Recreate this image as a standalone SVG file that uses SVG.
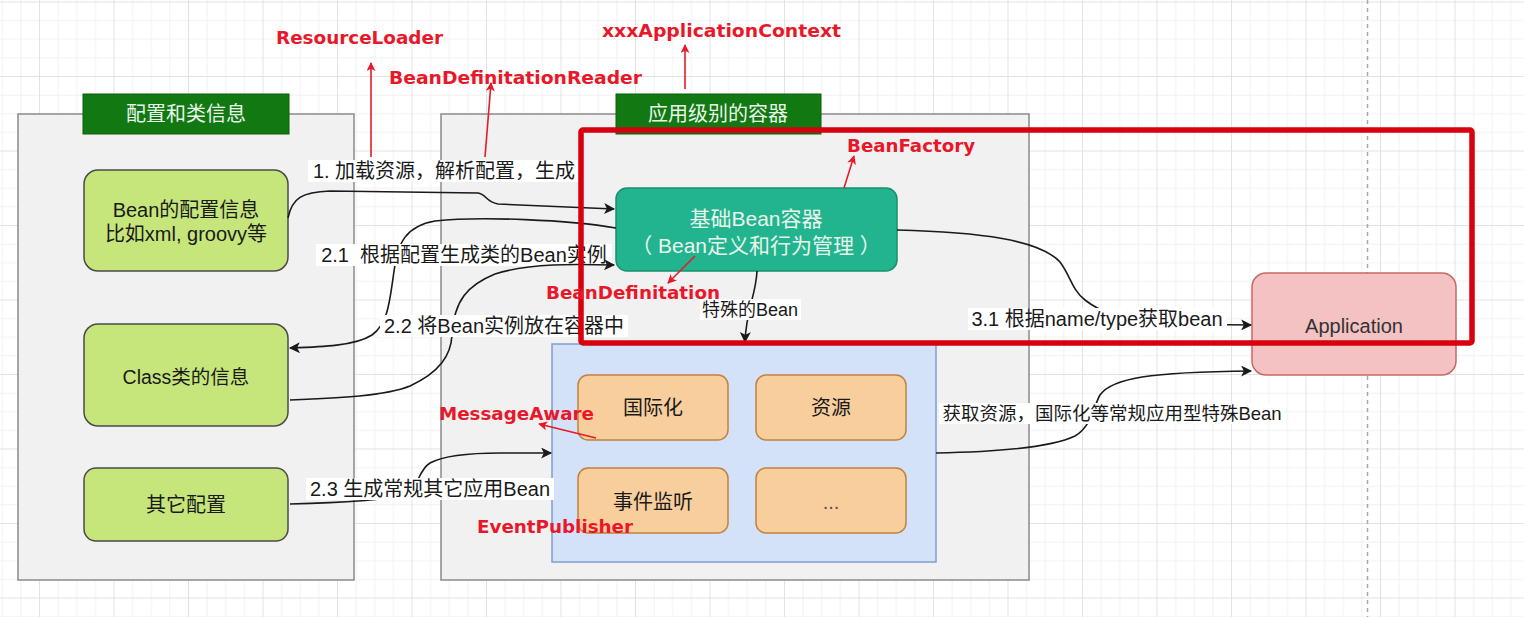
<svg xmlns="http://www.w3.org/2000/svg" width="1524" height="617" viewBox="0 0 1524 617">
<style>
.t{font-family:"Liberation Sans","Noto Sans CJK SC",sans-serif;font-size:20px;fill:#1a1a1a;text-anchor:middle}
.w{fill:#e9f5ec}
.r{font-family:"DejaVu Sans","Liberation Sans",sans-serif;font-weight:bold;font-size:18px;fill:#e8182a}
.panel{fill:#f1f1f1;stroke:#8a8a8a;stroke-width:1.5}
.hdr{fill:#127812;stroke:#0b5e0b;stroke-width:1}
.green{fill:#c6e67c;stroke:#4a4a4a;stroke-width:1.5}
.orange{fill:#f8ce9d;stroke:#c0823e;stroke-width:1.5}
.edge{fill:none;stroke:#1a1a1a;stroke-width:1.6}
.redarrow{fill:none;stroke:#e8182a;stroke-width:1.6}
.bg{fill:#ffffff}
</style>
<defs>
<pattern id="grid" x="39" y="1.5" width="74.5" height="74.5" patternUnits="userSpaceOnUse">
<path d="M0,19.1 H74.5 M0,37.75 H74.5 M0,56.4 H74.5 M19.1,0 V74.5 M37.75,0 V74.5 M56.4,0 V74.5" stroke="#f1f1f1" stroke-width="1" fill="none"/>
<path d="M0,0.5 H74.5 M0.5,0 V74.5" stroke="#e2e2e2" stroke-width="1" fill="none"/>
</pattern>
<marker id="ba" viewBox="0 0 10 10" refX="9" refY="5" markerWidth="13" markerHeight="11" markerUnits="userSpaceOnUse" orient="auto">
<path d="M0,0 L10,5 L0,10 L2.5,5 z" fill="#1a1a1a"/>
</marker>
<marker id="ra" viewBox="0 0 10 10" refX="9" refY="5" markerWidth="10" markerHeight="9" markerUnits="userSpaceOnUse" orient="auto">
<path d="M0,0 L10,5 L0,10 L2.5,5 z" fill="#e8182a"/>
</marker>
</defs>

<rect x="0" y="0" width="1524" height="617" fill="#ffffff"/>
<rect x="0" y="0" width="1524" height="617" fill="url(#grid)"/>
<line x1="1367.5" y1="0" x2="1367.5" y2="617" stroke="#a8a8a8" stroke-width="1.5" stroke-dasharray="4,4"/>

<g id="panel-config">
<rect class="panel" x="18" y="114" width="336" height="466"/>
<rect class="hdr" x="83" y="94" width="206" height="40"/>
<text class="t w" x="186" y="121">配置和类信息</text>
</g>
<g id="panel-context">
<rect class="panel" x="441" y="114" width="588" height="466"/>
<rect class="hdr" x="616" y="94" width="205" height="40"/>
<text class="t w" x="718" y="121">应用级别的容器</text>
</g>

<g id="node-bean-config">
<rect class="green" x="84" y="170" width="204" height="101" rx="14"/>
<text class="t" x="186" y="217">Bean的配置信息</text>
<text class="t" x="186" y="241">比如xml, groovy等</text>
</g>
<g id="node-class-info">
<rect class="green" x="84" y="324" width="204" height="102" rx="14"/>
<text class="t" x="186" y="384" style="font-size:19.5px">Class类的信息</text>
</g>
<g id="node-other-config">
<rect class="green" x="84" y="468" width="204" height="73" rx="12"/>
<text class="t" x="186" y="512">其它配置</text>
</g>

<g id="node-bean-container">
<rect x="616" y="188" width="281" height="83" rx="11" fill="#22b48e" stroke="#17906f" stroke-width="1.5"/>
<text class="t w" x="756" y="226" style="font-size:21px">基础Bean容器</text>
<text class="t w" x="756" y="253" style="font-size:21px" xml:space="preserve">（ Bean定义和行为管理 ）</text>
</g>

<g id="node-special-beans">
<rect x="552" y="344" width="384" height="218" fill="#d3e2f8" stroke="#7d9fcf" stroke-width="1.5"/>
</g>
<g id="node-i18n">
<rect class="orange" x="578" y="375" width="150" height="65" rx="10"/>
<text class="t" x="653" y="415">国际化</text>
</g>
<g id="node-resource">
<rect class="orange" x="756" y="375" width="150" height="65" rx="10"/>
<text class="t" x="831" y="415">资源</text>
</g>
<g id="node-event">
<rect class="orange" x="578" y="468" width="150" height="65" rx="10"/>
<text class="t" x="653" y="509">事件监听</text>
</g>
<g id="node-more">
<rect class="orange" x="756" y="468" width="150" height="65" rx="10"/>
<text class="t" x="831" y="509" style="fill:#555">...</text>
</g>

<g id="node-application">
<rect x="1252" y="273" width="204" height="102" rx="14" fill="#f4c2c2" stroke="#c46a66" stroke-width="1.5"/>
<text class="t" x="1354" y="333" style="fill:#333">Application</text>
</g>

<g id="connectors">
<g id="edge-1">
<path class="edge" d="M288,218 C292,198 302,192 330,191 L478,193 C486,194 486,202 498,204 L614,209" marker-end="url(#ba)"/>
<rect class="bg" x="308" y="160" width="272" height="22"/>
<text class="t" x="444" y="178">1. 加载资源，解析配置，生成</text>
</g>
<g id="edge-2-1">
<path class="edge" d="M616,228 C570,220 480,216 435,221 C405,226 398,245 395,265 C390,295 390,322 372,335 C355,346 320,347 290,348" marker-end="url(#ba)"/>
<rect class="bg" x="316" y="244" width="296" height="22"/>
<text class="t" x="464" y="262" xml:space="preserve">2.1  根据配置生成类的Bean实例</text>
</g>
<g id="edge-2-2">
<path class="edge" d="M290,400 C340,398 385,396 410,386 C440,372 451,355 452,335 C454,300 468,285 495,274 C530,263 575,264 614,265" marker-end="url(#ba)"/>
<rect class="bg" x="380" y="315" width="248" height="22"/>
<text class="t" x="504" y="333">2.2 将Bean实例放在容器中</text>
</g>
<g id="edge-2-3">
<path class="edge" d="M290,504 C330,503 380,501 405,495 C418,490 418,470 430,463 C445,455 470,453 500,453 L551,453" marker-end="url(#ba)"/>
<rect class="bg" x="306" y="478" width="248" height="22"/>
<text class="t" x="430" y="496">2.3 生成常规其它应用Bean</text>
</g>
<g id="edge-special">
<path class="edge" d="M757,271 C756,295 746,310 745,342" marker-end="url(#ba)"/>
<rect class="bg" x="700" y="299" width="101" height="21"/>
<text class="t" x="750" y="316" style="font-size:18px">特殊的Bean</text>
</g>
<g id="edge-3-1">
<path class="edge" d="M897,230 C980,232 1040,240 1060,262 C1070,275 1072,290 1085,300 C1100,312 1130,324 1160,324 L1251,325" marker-end="url(#ba)"/>
<rect class="bg" x="968" y="308" width="259" height="22"/>
<text class="t" x="1097" y="326">3.1 根据name/type获取bean</text>
</g>
<g id="edge-app-special">
<path class="edge" d="M936,453 C990,452 1050,448 1075,436 C1092,426 1094,405 1100,395 C1112,378 1150,372 1251,371" marker-end="url(#ba)"/>
<rect class="bg" x="939" y="403" width="345" height="21"/>
<text class="t" x="1112" y="420" style="font-size:18.5px">获取资源，国际化等常规应用型特殊Bean</text>
</g>
</g>

<g id="highlight">
<rect x="581" y="130" width="891" height="213" rx="2" fill="none" stroke="#d6000e" stroke-width="5.5"/>
</g>

<g id="annotations">
<path class="redarrow" d="M371,157 L371,63" marker-end="url(#ra)"/>
<text class="r" x="276" y="44" textLength="167" lengthAdjust="spacingAndGlyphs">ResourceLoader</text>
<path class="redarrow" d="M485,157 L491,83" marker-end="url(#ra)"/>
<text class="r" x="389" y="84" textLength="253" lengthAdjust="spacingAndGlyphs">BeanDefinitationReader</text>
<path class="redarrow" d="M685,89 L685,45" marker-end="url(#ra)"/>
<text class="r" x="602" y="37" textLength="239" lengthAdjust="spacingAndGlyphs">xxxApplicationContext</text>
<path class="redarrow" d="M844,188 L854,156" marker-end="url(#ra)"/>
<text class="r" x="847" y="152" textLength="128" lengthAdjust="spacingAndGlyphs">BeanFactory</text>
<path class="redarrow" d="M695,256 L668,283" marker-end="url(#ra)"/>
<text class="r" x="546" y="299" textLength="174" lengthAdjust="spacingAndGlyphs">BeanDefinitation</text>
<path class="redarrow" d="M596,438 L539,424" marker-end="url(#ra)"/>
<text class="r" x="439" y="420" textLength="155" lengthAdjust="spacingAndGlyphs">MessageAware</text>
<text class="r" x="477" y="533" textLength="156" lengthAdjust="spacingAndGlyphs">EventPublisher</text>
</g>
</svg>
